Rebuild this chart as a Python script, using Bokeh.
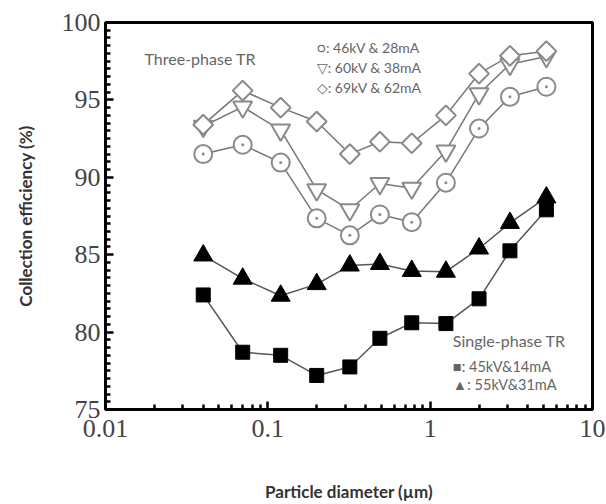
import math
from bokeh.plotting import figure
from bokeh.models import FixedTicker, Range1d, Label
from bokeh.embed import file_html
from bokeh.resources import INLINE

# ---- data ----
diameter = [0.04, 0.07, 0.12, 0.2, 0.32, 0.49, 0.77, 1.25, 2.0, 3.1, 5.2]
eff_46kV = [91.5, 92.1, 90.95, 87.35, 86.25, 87.6, 87.1, 89.65, 93.15, 95.2, 95.85]
eff_60kV = [93.3, 94.55, 93.05, 89.2, 87.9, 89.6, 89.3, 91.7, 95.4, 97.3, 97.8]
eff_69kV = [93.4, 95.6, 94.5, 93.6, 91.5, 92.3, 92.2, 94.0, 96.7, 97.85, 98.15]
eff_45kV = [82.4, 78.7, 78.5, 77.2, 77.75, 79.6, 80.6, 80.55, 82.15, 85.25, 87.9]
eff_55kV = [84.95, 83.45, 82.35, 83.1, 84.3, 84.4, 83.95, 83.9, 85.4, 87.05, 88.7]

x_major = [0.01, 0.1, 1, 10]
x_major_labels = ["0.01", "0.1", "1", "10"]
y_major = [75, 80, 85, 90, 95, 100]

p = figure(width=606, height=504, x_axis_type="log", output_backend="svg",
           toolbar_location=None, x_range=Range1d(0.01, 10), y_range=Range1d(75, 100),
           min_border_left=105, min_border_right=14, min_border_top=22, min_border_bottom=92)
p.grid.visible = False
p.outline_line_color = "black"
p.outline_line_width = 3

minor_x = [m * d for d in [0.01, 0.1, 1] for m in range(2, 10)]
minor_y = [75 + 0.5 * i for i in range(51) if (75 + 0.5 * i) % 5 != 0]

xa = p.xaxis[0]
xa.ticker = FixedTicker(ticks=x_major, minor_ticks=minor_x)
xa.major_label_overrides = {t: l for t, l in zip(x_major, x_major_labels)}
ya = p.yaxis[0]
ya.ticker = FixedTicker(ticks=y_major, minor_ticks=minor_y)

for ax in (xa, ya):
    ax.axis_line_width = 3
    ax.axis_line_color = "black"
    ax.major_tick_in = 8
    ax.major_tick_out = 0
    ax.minor_tick_in = 5
    ax.minor_tick_out = 0
    ax.major_tick_line_width = 2.5
    ax.minor_tick_line_width = 2.5
    ax.major_tick_line_color = "black"
    ax.minor_tick_line_color = "black"
    ax.major_label_text_font = "Liberation Serif"
    ax.major_label_text_font_size = "26px"
    ax.major_label_text_color = "#444444"
    ax.axis_label_text_font = "Lato"
    ax.axis_label_text_font_style = "bold"
    ax.axis_label_text_font_size = "17px"
    ax.axis_label_text_color = "#333333"

xa.axis_label = "Particle diameter (µm)"
xa.major_label_standoff = 10
xa.axis_label_standoff = 41
ya.axis_label = "Collection efficiency (%)"
ya.major_label_standoff = 5
ya.axis_label_standoff = 23

line_col = "#777777"
open_col = "#8a8a8a"

p.line(diameter, eff_46kV, line_color=line_col, line_width=1.5)
p.line(diameter, eff_60kV, line_color=line_col, line_width=1.5)
p.line(diameter, eff_69kV, line_color=line_col, line_width=1.5)
p.line(diameter, eff_45kV, line_color="#555555", line_width=1.5)
p.line(diameter, eff_55kV, line_color="#555555", line_width=1.5)

p.scatter(diameter, eff_46kV, marker="circle", size=18, fill_color="white",
          line_color=open_col, line_width=2)
p.scatter(diameter, eff_46kV, marker="circle", size=3, fill_color=open_col,
          line_color=None)
p.scatter(diameter, eff_60kV, marker="inverted_triangle", size=19, fill_color="white",
          line_color=open_col, line_width=2)
p.scatter(diameter, eff_69kV, marker="square", size=14, angle=math.pi / 4,
          fill_color="white", line_color=open_col, line_width=2)
p.scatter(diameter, eff_45kV, marker="square", size=14, fill_color="black",
          line_color="black", line_width=1)
p.scatter(diameter, eff_55kV, marker="triangle", size=19, fill_color="black",
          line_color="black", line_width=1)

def add_label(x, y, text, size="13px", color="#666666"):
    p.add_layout(Label(x=x, y=y, text=text, text_font="Lato", text_font_size=size,
                       text_color=color, text_baseline="middle", text_align="left"))

add_label(0.0174, 97.7, "Three-phase TR", "16px")
add_label(0.2, 98.4, "○: 46kV & 28mA", "14px")
add_label(0.2, 97.1, "▽: 60kV & 38mA", "14px")
add_label(0.2, 95.8, "◇: 69kV & 62mA", "14px")
add_label(1.38, 79.45, "Single-phase TR", "16px")
add_label(1.38, 77.8, "■: 45kV&14mA", "14.5px")
add_label(1.38, 76.6, "▲: 55kV&31mA", "14.5px")

open("out.html", "w").write(file_html(p, INLINE))
